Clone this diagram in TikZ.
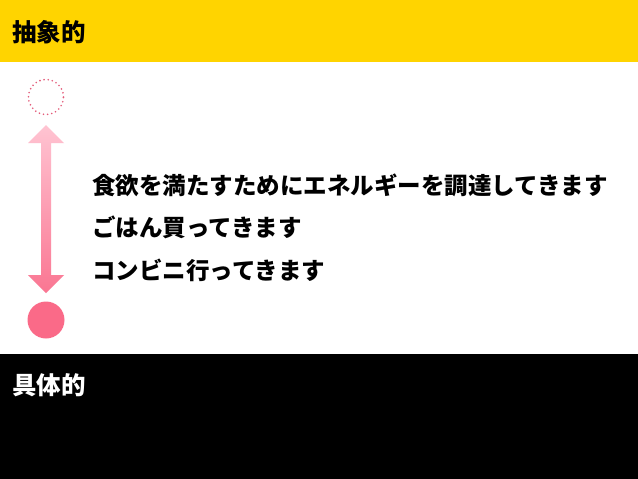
\documentclass[tikz,border=0pt]{standalone}
\usepackage{fontspec}
\usepackage{tikz}
\newfontfamily\jpfont{Noto Sans CJK JP}
\definecolor{bandyellow}{RGB}{255,212,0}
\definecolor{dotpink}{RGB}{228,92,122}
\definecolor{dotfill}{RGB}{250,106,136}
\definecolor{arrowtop}{RGB}{255,196,210}
\definecolor{arrowbottom}{RGB}{250,118,146}
\tikzset{
  bandlabel/.style={anchor=west,text=#1,inner sep=0pt,font=\jpfont\bfseries\fontsize{24.5}{28}\selectfont},
  stepline/.style={anchor=west,inner sep=0pt,font=\jpfont\bfseries\fontsize{23.5}{27}\selectfont}
}

\begin{document}
\begin{tikzpicture}[x=1pt,y=-1pt]
\useasboundingbox (0,0) rectangle (638,479);
\fill[white] (0,0) rectangle (638,479);
% bands
\fill[bandyellow] (0,0) rectangle (638,62);
\fill[black] (0,354) rectangle (638,479);
\node[bandlabel=black] (abstract) at (12,32) {抽象的};
\node[bandlabel=white] (concrete) at (12,385) {具体的};
% scale
\node[circle,draw=dotpink,line width=1.8pt,line cap=round,dash pattern=on 0pt off 4.2pt,minimum size=35pt,inner sep=0pt] (top) at (46,97) {};
\node[circle,fill=dotfill,minimum size=37pt,inner sep=0pt] (bottom) at (46,320) {};
\shade[top color=arrowtop,bottom color=arrowbottom]
  (46,125) -- (64,143) -- (51,143) -- (51,275) -- (64,275) -- (46,293)
  -- (28,275) -- (41,275) -- (41,143) -- (28,143) -- cycle;
% text
\node[stepline] (line1) at (92,185) {食欲を満たすためにエネルギーを調達してきます};
\node[stepline] (line2) at (92,227) {ごはん買ってきます};
\node[stepline] (line3) at (92,270) {コンビニ行ってきます};
\end{tikzpicture}
\end{document}
